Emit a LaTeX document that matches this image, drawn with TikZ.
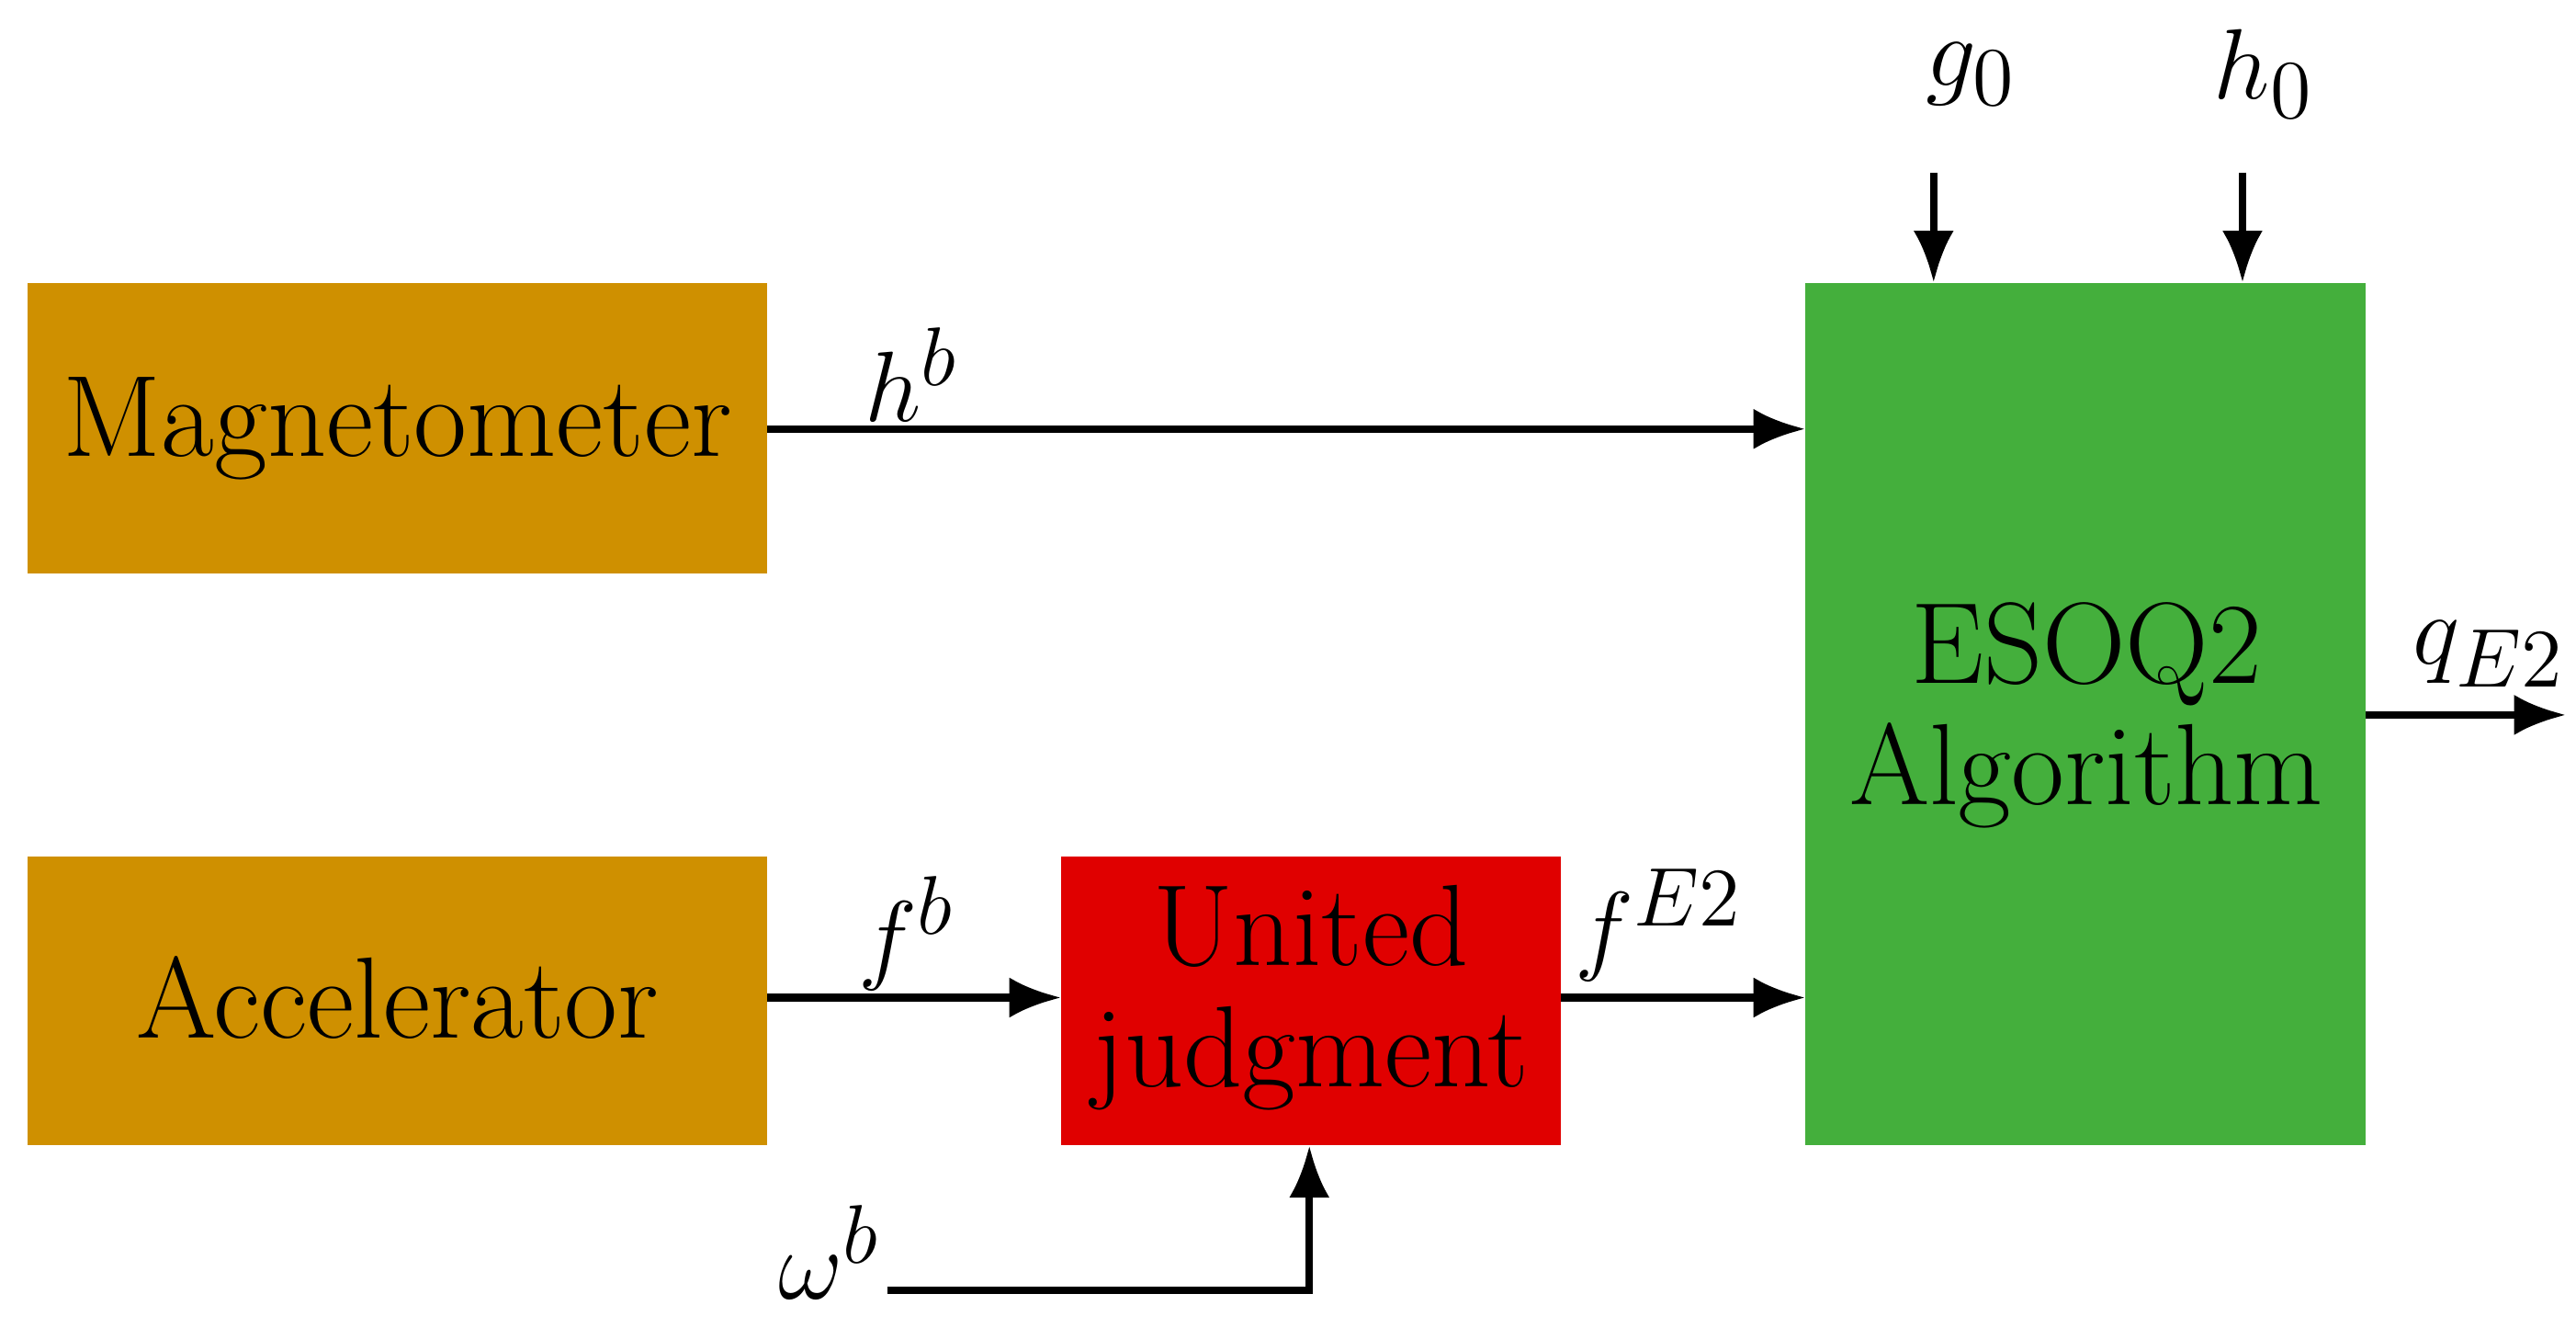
\documentclass[tikz,border=0pt]{standalone}
\usetikzlibrary{arrows.meta}
\definecolor{orng}{HTML}{CF9000}
\definecolor{rd}{HTML}{E00000}
\definecolor{grn}{HTML}{44AF3C}
\begin{document}
\begin{tikzpicture}[x=0.01cm,y=-0.01cm,
  lab/.style={font=\fontsize{20}{24}\selectfont},
  mlab/.style={font=\fontsize{19}{23}\selectfont},
  arr/.style={line width=1.3pt,-{Latex[length=9pt,width=7pt]}}]
\useasboundingbox (0,0) rectangle (1568,808);
\fill[orng] (17,172) rectangle (467,349);
\node[lab] (mag) at (242,261) {Magnetometer};
\fill[orng] (17,521) rectangle (467,697);
\node[lab] (acc) at (242,607) {Accelerator};
\fill[rd] (646,521) rectangle (950,697);
\node[lab,align=center] (uj) at (798,607) {United\\[-3pt]judgment};
\fill[grn] (1099,172) rectangle (1440,697);
\node[lab,align=center] (es) at (1270,435) {ESOQ2\\[-3pt]Algorithm};
\coordinate (mR) at (467,261); \coordinate (eL1) at (1099,261);
\coordinate (aR) at (467,607); \coordinate (uL) at (646,607);
\coordinate (uR) at (950,607); \coordinate (eL2) at (1099,607);
\coordinate (w0) at (540,785); \coordinate (wc) at (797,785); \coordinate (uB) at (797,697);
\coordinate (g0s) at (1177,105); \coordinate (g0e) at (1177,172);
\coordinate (h0s) at (1365,105); \coordinate (h0e) at (1365,172);
\coordinate (eR) at (1440,435); \coordinate (qe) at (1562,435);
\draw[arr] (mR) -- (eL1);
\draw[arr] (aR) -- (uL);
\draw[arr] (uR) -- (eL2);
\draw[arr] (w0) -- (wc) -- (uB);
\draw[arr] (g0s) -- (g0e);
\draw[arr] (h0s) -- (h0e);
\draw[arr] (eR) -- (qe);
\node[mlab] (hb) at (555,228) {$h^b$};
\node[mlab] (fb) at (552,568) {$f^b$};
\node[mlab] (fe) at (1010,563) {$f^{E2}$};
\node[mlab] (wb) at (505,762) {$\omega^b$};
\node[mlab] (g0) at (1200,45) {$g_0$};
\node[mlab] (h0) at (1378,45) {$h_0$};
\node[mlab] (q) at (1515,398) {$q_{E2}$};
\end{tikzpicture}
\end{document}
